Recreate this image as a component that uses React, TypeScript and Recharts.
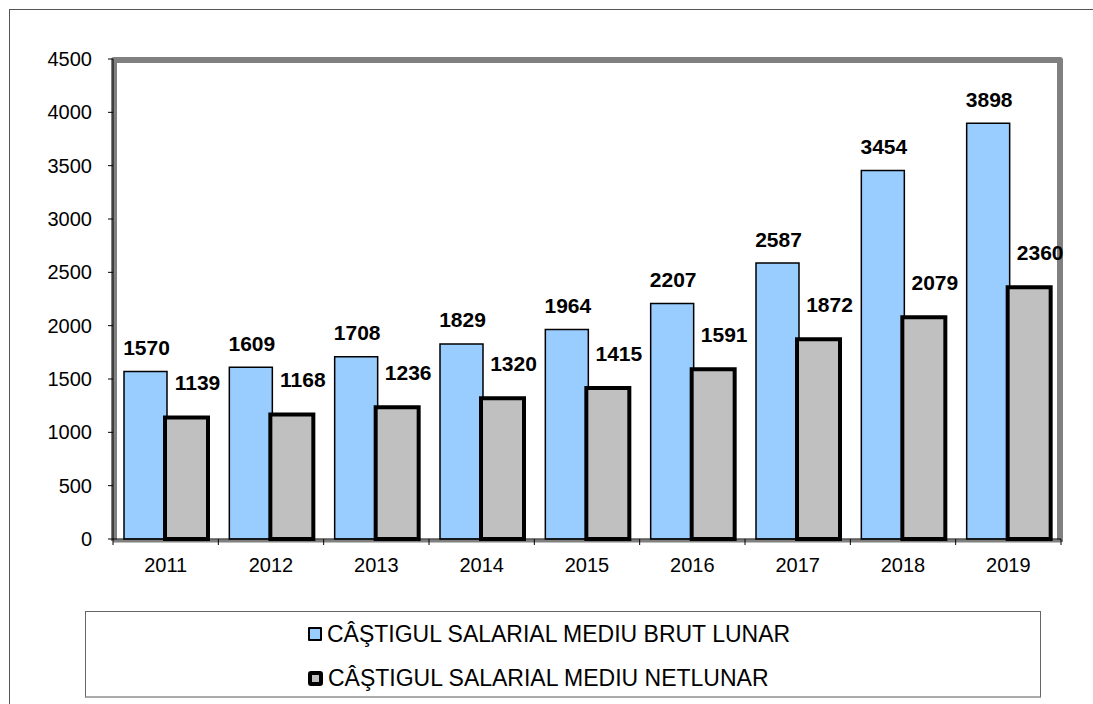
import React from 'react';
import { BarChart, Bar, XAxis, YAxis, ReferenceArea, LabelList } from 'recharts';

const years = ['2011', '2012', '2013', '2014', '2015', '2016', '2017', '2018', '2019'];
const brut = [1570, 1609, 1708, 1829, 1964, 2207, 2587, 3454, 3898];
const net = [1139, 1168, 1236, 1320, 1415, 1591, 1872, 2079, 2360];
const yTicks = [0, 500, 1000, 1500, 2000, 2500, 3000, 3500, 4000, 4500];
const seriesNames = ['CÂŞTIGUL SALARIAL MEDIU BRUT LUNAR', 'CÂŞTIGUL SALARIAL MEDIU NETLUNAR'];

const data = years.map((y, i) => ({ year: y, brut: brut[i], net: net[i] }));

const FONT = '"Liberation Sans", Arial, sans-serif';

const XTick = (props: any) => {
  const { x, y, payload, index, visibleTicksCount } = props;
  const off = payload && typeof payload.offset === 'number' && payload.offset > 0 ? payload.offset : 52.67;
  return (
    <g>
      <line x1={x - off} x2={x - off} y1={y - 6} y2={y} stroke="#000" strokeWidth={1} />
      {index === visibleTicksCount - 1 && (
        <line x1={x + off} x2={x + off} y1={y - 6} y2={y} stroke="#000" strokeWidth={1} />
      )}
      <text x={x} y={y + 27} textAnchor="middle" fontSize={20} fontFamily={FONT} fill="#000">
        {payload.value}
      </text>
    </g>
  );
};

const BrutLabel = (props: any) => {
  const { x, y, width, value } = props;
  return (
    <text x={x + width / 2 + 1} y={y - 24 + 7.5} textAnchor="middle" fontSize={21} fontWeight="bold" fontFamily={FONT} fill="#000">
      {value}
    </text>
  );
};

const NetLabel = (props: any) => {
  const { x, y, width, value } = props;
  return (
    <text x={x + width / 2 + 11} y={y - 35 + 7.5} textAnchor="middle" fontSize={21} fontWeight="bold" fontFamily={FONT} fill="#000">
      {value}
    </text>
  );
};

const FrameShape = (props: any) => {
  const { x, y, width, height } = props;
  return (
    <g>
      <path
        d={`M${x + 1},${y + height + 2} L${x + 1},${y + 1} L${x + width - 1},${y + 1} L${x + width - 1},${y + height + 3}`}
        fill="none"
        stroke="#808080"
        strokeWidth={6}
        strokeLinejoin="round"
      />
      <line x1={x} x2={x + width} y1={y + height + 2} y2={y + height + 2} stroke="#808080" strokeWidth={3} />
    </g>
  );
};

export default function App() {
  return (
    <div style={{ position: 'absolute', left: 0, top: 0, width: 1093, height: 704, overflow: 'hidden', background: '#fff' }}>
      <div
        style={{
          position: 'absolute',
          left: 9,
          top: 9,
          width: 1200,
          height: 800,
          borderTop: '1px solid #555',
          borderLeft: '1px solid #555',
        }}
      />
      <div style={{ position: 'absolute', left: 0, top: 0 }}>
        <BarChart
          width={1093}
          height={704}
          data={data}
          margin={{ top: 59, right: 32, left: 13, bottom: 125 }}
          barCategoryGap={11}
          barGap={-2}
        >
          <ReferenceArea y1={0} y2={4500} shape={<FrameShape />} ifOverflow="visible" />
          <XAxis
            dataKey="year"
            height={40}
            axisLine={{ stroke: '#000', strokeWidth: 1 }}
            tickLine={false}
            tickSize={6}
            tickMargin={0}
            interval={0}
            tick={<XTick />}
          />
          <YAxis
            width={100}
            domain={[0, 4500]}
            ticks={yTicks}
            interval={0}
            axisLine={{ stroke: '#000', strokeWidth: 1 }}
            tickLine={{ stroke: '#000' }}
            tickSize={5}
            tickMargin={16}
            tick={{ fontSize: 20, fontFamily: FONT, fill: '#000' }}
          />
          <Bar dataKey="brut" name={seriesNames[0]} fill="#99CCFF" stroke="#000" strokeWidth={1.5} isAnimationActive={false}>
            <LabelList dataKey="brut" content={<BrutLabel />} />
          </Bar>
          <Bar dataKey="net" name={seriesNames[1]} fill="#C0C0C0" stroke="#000" strokeWidth={4} isAnimationActive={false}>
            <LabelList dataKey="net" content={<NetLabel />} />
          </Bar>
        </BarChart>
      </div>
      <div
        style={{
          position: 'absolute',
          left: 85,
          top: 611,
          width: 954,
          height: 84,
          border: '1px solid #666',
          borderBottom: '2px solid #aaa',
          fontFamily: FONT,
          fontSize: 23,
          color: '#000',
        }}
      >
        {seriesNames.map((name, i) => (
          <div
            key={name}
            style={{
              position: 'absolute',
              left: 222,
              top: i === 0 ? 8 : 52,
              height: 28,
              display: 'flex',
              alignItems: 'center',
              whiteSpace: 'nowrap',
            }}
          >
            <span
              style={{
                display: 'inline-block',
                boxSizing: 'border-box',
                width: i === 0 ? 14 : 15,
                height: i === 0 ? 14 : 15,
                background: i === 0 ? '#99CCFF' : '#C0C0C0',
                border: i === 0 ? '2px solid #000' : '4px solid #000',
                borderRadius: i === 0 ? 1 : 3,
                marginRight: 5,
              }}
            />
            <span>{name}</span>
          </div>
        ))}
      </div>
    </div>
  );
}
